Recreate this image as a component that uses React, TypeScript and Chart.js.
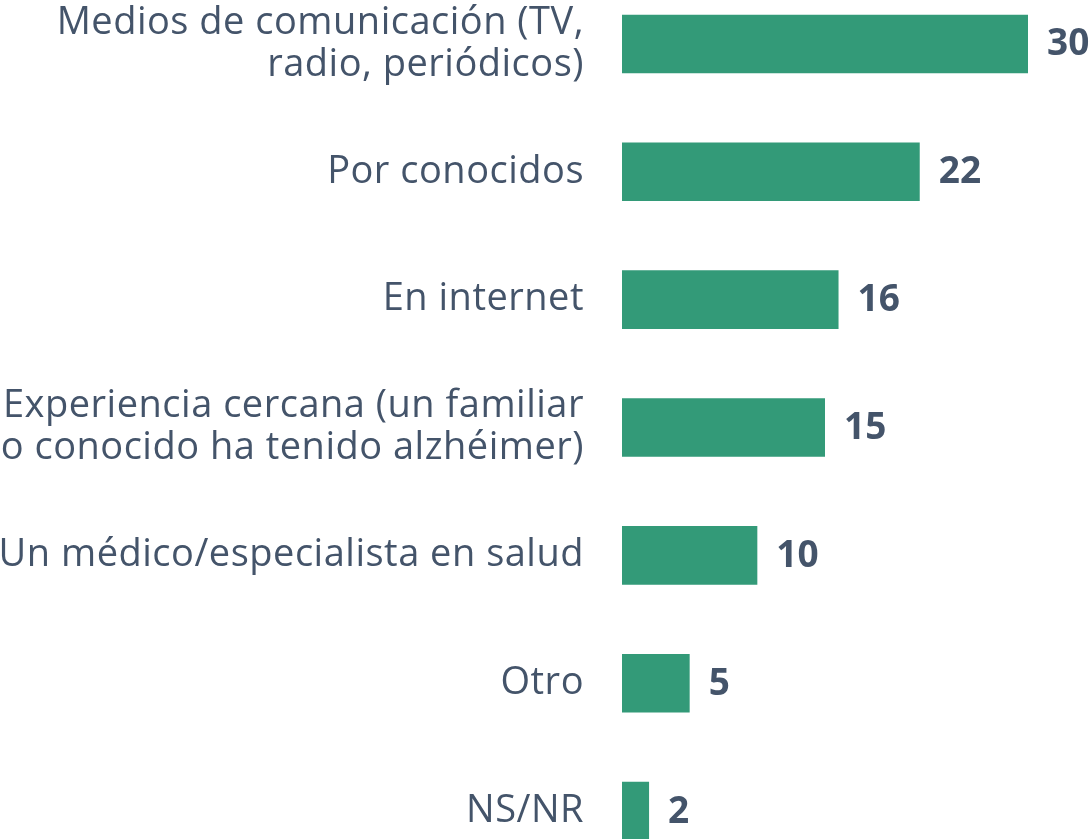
import React, { useEffect, useRef } from "react";
import { Chart, registerables } from "chart.js";

Chart.register(...registerables);

const categories: (string | string[])[] = [
  ["Medios de comunicación (TV,", "radio, periódicos)"],
  "Por conocidos",
  "En internet",
  ["Experiencia cercana (un familiar", "o conocido ha tenido alzhéimer)"],
  "Un médico/especialista en salud",
  "Otro",
  "NS/NR",
];
const values: number[] = [30, 22, 16, 15, 10, 5, 2];

const BAR_COLOR = "#339a78";
const TEXT_COLOR = "#44546a";
const FONT = "'Open Sans', sans-serif";

const tracking = {
  id: "tracking",
  beforeDraw(chart: any) {
    chart.ctx.letterSpacing = "0.5px";
  },
};

const valueLabels = {
  id: "valueLabels",
  afterDatasetsDraw(chart: any) {
    const ctx = chart.ctx;
    const meta = chart.getDatasetMeta(0);
    ctx.save();
    ctx.letterSpacing = "0px";
    ctx.fillStyle = TEXT_COLOR;
    ctx.font = `bold 37px ${FONT}`;
    ctx.textAlign = "left";
    ctx.textBaseline = "middle";
    meta.data.forEach((bar: any, i: number) => {
      ctx.fillText(String(values[i]), bar.x + 19, bar.y + 1);
    });
    ctx.restore();
  },
};

export default function App() {
  const ref = useRef<HTMLCanvasElement>(null);
  useEffect(() => {
    if (!ref.current) return;
    const chart = new Chart(ref.current, {
      type: "bar",
      data: {
        labels: categories,
        datasets: [
          {
            data: values,
            backgroundColor: BAR_COLOR,
            barPercentage: 0.458,
            categoryPercentage: 1,
          },
        ],
      },
      options: {
        indexAxis: "y",
        animation: false,
        responsive: false,
        maintainAspectRatio: false,
        layout: { padding: { left: 0, right: 64, top: 0, bottom: 0 } },
        plugins: { legend: { display: false }, tooltip: { enabled: false } },
        scales: {
          x: { display: false, min: 0, max: 30 },
          y: {
            grid: { display: false },
            border: { display: false },
            ticks: {
              color: TEXT_COLOR,
              padding: 30,
              font: { family: FONT, size: 38, lineHeight: 1.1 },
            },
            afterFit(scale: any) {
              scale.width = 622;
              scale.paddingTop = 0;
              scale.paddingBottom = 0;
            },
          },
        },
      },
      plugins: [tracking, valueLabels],
    });
    return () => chart.destroy();
  }, []);
  return (
    <div style={{ position: "fixed", left: 0, top: 0, width: 1092, height: 839, overflow: "hidden", background: "#fff" }}>
      <canvas ref={ref} width={1092} height={895} style={{ position: "absolute", left: 0, top: -20, width: 1092, height: 895 }} />
    </div>
  );
}
